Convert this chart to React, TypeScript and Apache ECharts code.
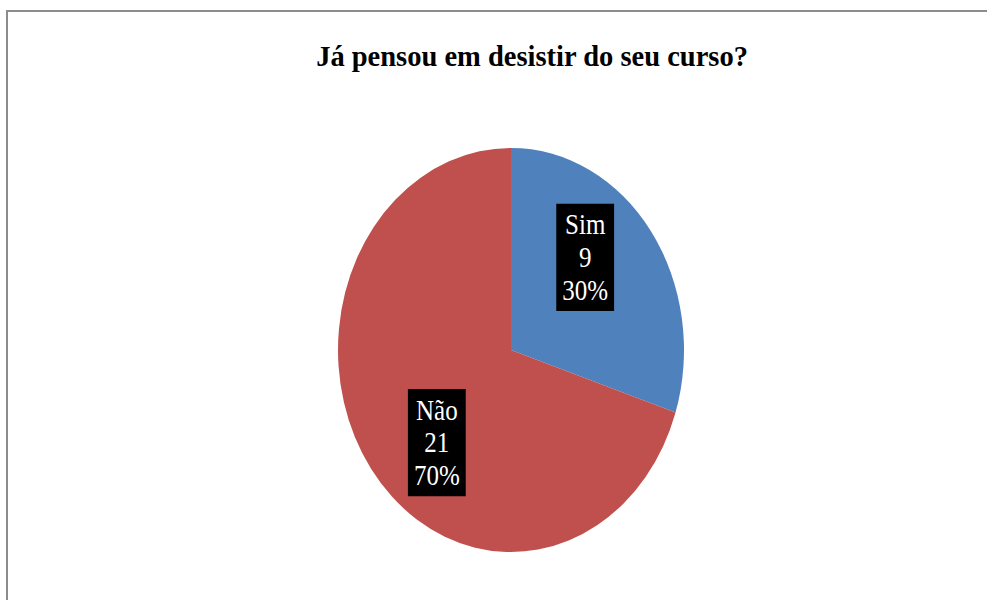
import React, { useEffect, useRef } from "react";
import * as echarts from "echarts";

const categories = ["Sim", "Não"];
const values = [9, 21];
const colors = ["#4F81BD", "#C0504D"];
const titleText = "Já pensou em desistir do seu curso?";

export default function App() {
  const ref = useRef<HTMLDivElement>(null);
  useEffect(() => {
    if (!ref.current) return;
    const chart = echarts.init(ref.current, undefined, { renderer: "svg" });
    const total = values.reduce((a, b) => a + b, 0);
    const cx = 511;
    const cy = 350;
    const rx = 173;
    const ry = 202;
    const sy = ry / rx;
    chart.setOption({
      animation: false,
      backgroundColor: "#ffffff",
      title: {
        text: titleText,
        left: 527,
        textAlign: "center",
        top: 37,
        textStyle: {
          fontFamily: "'Liberation Serif', 'Times New Roman', serif",
          fontWeight: "bold",
          fontSize: 28.5,
          color: "#000000",
        },
      },
      graphic: [
        {
          type: "polyline",
          silent: true,
          shape: { points: [[7, 600], [7, 11], [987, 11]] },
          style: { stroke: "#8c8c8c", lineWidth: 2, fill: "none" },
        },
      ],
      series: [
        {
          type: "custom",
          coordinateSystem: "none",
          data: values.map((v, i) => [i, v]),
          renderItem: (params: any, api: any) => {
            const idx = params.dataIndex;
            const v = api.value(1);
            let before = 0;
            for (let i = 0; i < idx; i++) before += values[i];
            const a0 = (before / total) * Math.PI * 2;
            const a1 = ((before + v) / total) * Math.PI * 2;
            const mid = (a0 + a1) / 2;
            const pct = Math.round((v / total) * 100);
            const lx = rx * 0.53 * Math.sin(mid);
            const ly = -rx * 0.78 * Math.cos(mid);
            return {
              type: "group",
              x: cx,
              y: cy,
              scaleY: sy,
              children: [
                {
                  type: "sector",
                  shape: {
                    cx: 0,
                    cy: 0,
                    r0: 0,
                    r: rx,
                    startAngle: a0 - Math.PI / 2,
                    endAngle: a1 - Math.PI / 2,
                    clockwise: true,
                  },
                  style: { fill: colors[idx] },
                },
                {
                  type: "text",
                  x: lx,
                  y: ly,
                  z2: 10,
                  style: {
                    text: `${categories[idx]}\n${v}\n${pct}%`,
                    fill: "#ffffff",
                    fontFamily: "'Liberation Serif', 'Times New Roman', serif",
                    fontSize: 25,
                    lineHeight: 28,
                    align: "center",
                    verticalAlign: "middle",
                    backgroundColor: "#000000",
                    padding: [4, 6, 4, 6],
                  },
                },
              ],
            };
          },
        },
      ],
    });
    return () => chart.dispose();
  }, []);
  return (
    <div
      ref={ref}
      style={{ position: "absolute", left: 0, top: 0, width: 987, height: 600 }}
    />
  );
}
